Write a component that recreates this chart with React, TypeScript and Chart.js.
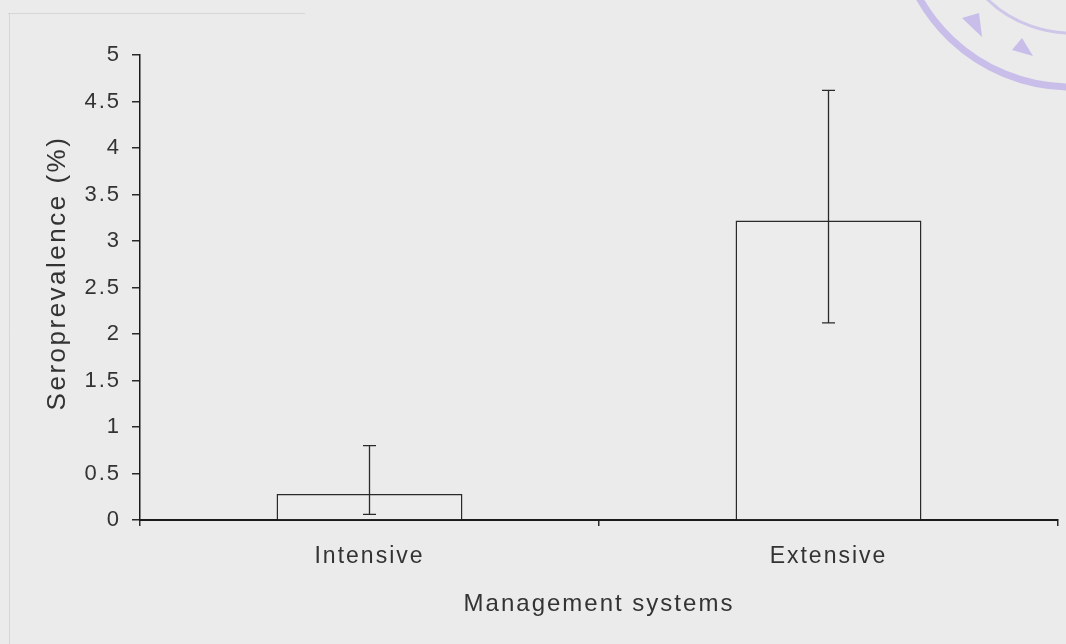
import React, { useEffect, useRef } from "react";
import { Chart, registerables } from "chart.js";

Chart.register(...registerables);

const categories = ["Intensive", "Extensive"];
const seroprevalence = [0.28, 3.22];
const errorLow = [0.06, 2.12];
const errorHigh = [0.8, 4.62];
const yTicks = [0, 0.5, 1, 1.5, 2, 2.5, 3, 3.5, 4, 4.5, 5];
const yTitle = "Seroprevalence (%)";
const xTitle = "Management systems";

const FONT = "'Liberation Sans', Arial, sans-serif";

const errorBarPlugin = {
  id: "errorBars",
  afterDatasetsDraw(chart: any) {
    const meta = chart.getDatasetMeta(0);
    const y = chart.scales.y;
    const ctx = chart.ctx;
    ctx.save();
    ctx.strokeStyle = "#2a2a2a";
    ctx.lineWidth = 1.3;
    meta.data.forEach((bar: any, i: number) => {
      const x = bar.x;
      const yl = y.getPixelForValue(errorLow[i]);
      const yh = y.getPixelForValue(errorHigh[i]);
      const cap = 6.5;
      ctx.beginPath();
      ctx.moveTo(x, yl);
      ctx.lineTo(x, yh);
      ctx.moveTo(x - cap, yh);
      ctx.lineTo(x + cap, yh);
      ctx.moveTo(x - cap, yl);
      ctx.lineTo(x + cap, yl);
      ctx.stroke();
    });
    ctx.restore();
  },
};

const spacingPlugin = {
  id: "letterSpacing",
  beforeDraw(chart: any) {
    const ctx = chart.ctx;
    ctx.save();
    ctx.strokeStyle = "rgba(200,200,200,0.6)";
    ctx.lineWidth = 1;
    ctx.beginPath();
    ctx.moveTo(8, 13.5);
    ctx.lineTo(305, 13.5);
    ctx.moveTo(9.5, 13);
    ctx.lineTo(9.5, 644);
    ctx.stroke();
    ctx.restore();
    (ctx as any).letterSpacing = "2px";
  },
};

const yTitlePlugin = {
  id: "yTitleManual",
  afterDraw(chart: any) {
    const ctx = chart.ctx;
    ctx.save();
    (ctx as any).letterSpacing = "2.5px";
    ctx.translate(57.5, 273);
    ctx.rotate(-Math.PI / 2);
    ctx.font = `26px ${FONT}`;
    ctx.fillStyle = "#333";
    ctx.textAlign = "center";
    ctx.textBaseline = "middle";
    ctx.fillText(yTitle, 0, 0);
    ctx.restore();
  },
};

const stampPlugin = {
  id: "stamp",
  afterDraw(chart: any) {
    const ctx = chart.ctx;
    ctx.save();
    ctx.strokeStyle = "rgba(165,145,232,0.5)";
    ctx.lineWidth = 7;
    ctx.beginPath();
    ctx.arc(1071, -87, 174, Math.PI * 0.4, Math.PI * 0.85);
    ctx.stroke();
    ctx.lineWidth = 3;
    ctx.strokeStyle = "rgba(165,145,232,0.4)";
    ctx.beginPath();
    ctx.arc(1071, -87, 120, Math.PI * 0.4, Math.PI * 0.82);
    ctx.stroke();
    ctx.fillStyle = "rgba(165,145,232,0.5)";
    ctx.beginPath();
    ctx.moveTo(962, 18);
    ctx.lineTo(979, 13);
    ctx.lineTo(982, 37);
    ctx.closePath();
    ctx.fill();
    ctx.beginPath();
    ctx.moveTo(1012, 50);
    ctx.lineTo(1022, 38);
    ctx.lineTo(1033, 56);
    ctx.closePath();
    ctx.fill();
    ctx.restore();
  },
};

export default function App() {
  const ref = useRef<HTMLCanvasElement | null>(null);
  useEffect(() => {
    if (!ref.current) return;
    const chart = new Chart(ref.current, {
      type: "bar",
      data: {
        labels: categories,
        datasets: [
          {
            data: seroprevalence,
            backgroundColor: "rgba(236,236,236,1)",
            borderColor: "#2a2a2a",
            borderWidth: 1.5,
            borderSkipped: "bottom",
            barPercentage: 0.405,
            categoryPercentage: 1,
          },
        ],
      },
      options: {
        animation: false,
        responsive: false,
        maintainAspectRatio: false,
        layout: { padding: { left: 41, right: 8, top: 55, bottom: 21 } },
        plugins: {
          legend: { display: false },
          tooltip: { enabled: false },
        },
        scales: {
          x: {
            offset: true,
            afterFit(scale: any) {
              scale.height = 103;
            },
            grid: {
              offset: true,
              drawOnChartArea: false,
              drawTicks: true,
              tickLength: 6,
              color: "#2a2a2a",
              lineWidth: 1.5,
            },
            border: { color: "#1a1a1a", width: 2 },
            ticks: {
              color: "#333",
              font: { family: FONT, size: 23 },
              padding: 17,
            },
            title: {
              display: true,
              text: xTitle,
              color: "#333",
              font: { family: FONT, size: 24 },
            },
          },
          y: {
            min: 0,
            max: 5,
            afterFit(scale: any) {
              scale.width = 99;
            },
            afterBuildTicks(scale: any) {
              scale.ticks = yTicks.map((v) => ({ value: v }));
            },
            grid: {
              drawOnChartArea: false,
              drawTicks: true,
              tickLength: 8,
              color: "#2a2a2a",
              lineWidth: 1.5,
            },
            border: { color: "#1a1a1a", width: 1.5 },
            ticks: {
              color: "#333",
              font: { family: FONT, size: 22 },
              padding: 11,
              callback: (v: any) => String(v),
            },
            title: { display: false },
          },
        },
      },
      plugins: [spacingPlugin, errorBarPlugin, yTitlePlugin, stampPlugin],
    });
    return () => chart.destroy();
  }, []);
  return (
    <div
      style={{
        position: "fixed",
        left: 0,
        top: 0,
        width: 1066,
        height: 644,
        background: "#ebebeb",
      }}
    >
      <canvas ref={ref} width={1066} height={644} style={{ display: "block" }} />
    </div>
  );
}
